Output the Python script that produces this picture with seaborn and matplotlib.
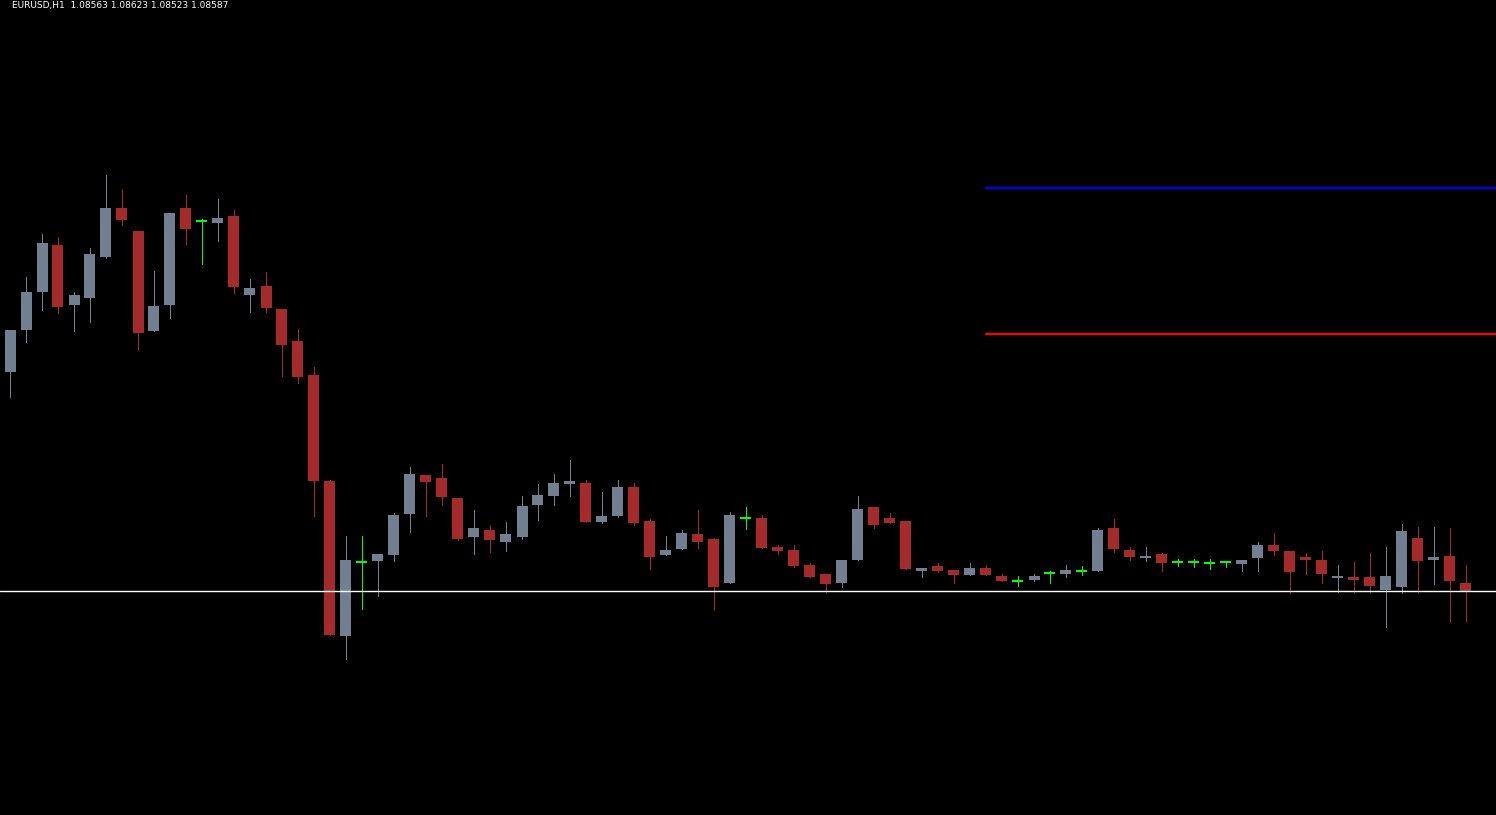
import numpy as np
import pandas as pd
import matplotlib

matplotlib.use('Agg')
import matplotlib.pyplot as plt
import seaborn as sns

# price levels in chart points, one entry per H1 bar
opens = [443, 485, 523, 570, 510, 517, 558, 607, 584, 484, 510, 607, 594, 592, 599, 520,
         529, 506, 474, 440, 334, 179, 253, 254, 260, 301, 340, 337, 317, 278, 285, 273,
         278, 310, 319, 331, 332, 293, 299, 328, 294, 260, 266, 281, 276, 232, 297, 297,
         268, 265, 250, 241, 232, 255, 308, 297, 294, 244, 249, 245, 240, 247, 239, 234,
         235, 242, 241, 244, 244, 287, 265, 257, 261, 253, 253, 252, 253, 251, 257, 270,
         264, 258, 255, 237, 238, 238, 225, 228, 277, 255, 259, 232]
highs = [485, 538, 581, 578, 523, 567, 640, 626, 584, 544, 602, 620, 596, 616, 605, 536,
         543, 506, 486, 448, 335, 279, 279, 261, 302, 348, 340, 351, 317, 305, 290, 293,
         319, 331, 341, 355, 335, 323, 335, 332, 296, 279, 285, 305, 277, 303, 308, 300,
         270, 270, 252, 241, 255, 319, 308, 302, 294, 247, 252, 245, 252, 250, 241, 239,
         241, 244, 250, 249, 287, 296, 268, 268, 262, 256, 256, 256, 253, 255, 273, 282,
         264, 262, 264, 250, 253, 262, 268, 291, 288, 288, 287, 250]
lows = [418, 473, 505, 502, 484, 493, 557, 590, 465, 484, 497, 571, 551, 574, 522, 503,
        503, 439, 432, 299, 180, 156, 206, 219, 254, 283, 299, 310, 275, 261, 263, 264,
        276, 295, 310, 319, 293, 292, 298, 290, 246, 260, 266, 267, 205, 232, 286, 267,
        261, 248, 238, 223, 228, 255, 287, 292, 246, 238, 243, 232, 240, 240, 234, 229,
        234, 232, 238, 240, 244, 263, 255, 254, 244, 249, 248, 246, 248, 244, 244, 260,
        222, 241, 232, 223, 223, 223, 188, 222, 223, 231, 193, 194]
closes = [485, 523, 572, 508, 520, 561, 607, 595, 482, 509, 602, 586, 594, 597, 528, 527,
          507, 470, 438, 334, 180, 255, 253, 261, 300, 341, 333, 318, 276, 287, 275, 281,
          309, 320, 332, 334, 293, 299, 328, 292, 258, 265, 282, 273, 228, 300, 297, 267,
          264, 249, 238, 231, 255, 306, 290, 292, 246, 247, 244, 240, 247, 240, 234, 234,
          239, 242, 245, 244, 285, 266, 258, 259, 252, 253, 253, 252, 253, 255, 270, 264,
          243, 255, 241, 239, 235, 229, 239, 284, 254, 258, 234, 224]

# horizontal levels drawn from bar 61 onwards
level_start = 61
upper_level = 627
lower_level = 481
header = "EURUSD,H1  1.08563 1.08623 1.08523 1.08587"

bull_color = '#708090'
bear_color = '#A52A2A'
doji_color = '#00FF00'

df = pd.DataFrame({'open': opens, 'high': highs, 'low': lows, 'close': closes})
df['x'] = np.arange(len(df))
df['kind'] = np.where(df['close'] > df['open'], 'bull',
                      np.where(df['close'] < df['open'], 'bear', 'doji'))
color_map = {'bull': bull_color, 'bear': bear_color, 'doji': doji_color}
df['color'] = df['kind'].map(color_map)

sns.set_theme(style='dark', rc={'axes.facecolor': 'black', 'figure.facecolor': 'black'})

fig = plt.figure(figsize=(14.96, 8.15), dpi=100)
ax = fig.add_axes([0, 0, 1, 1])
ax.set_facecolor('black')

body_w = 11 / 16
px = 0.72  # one pixel in points

# wicks
ax.vlines(df['x'], df['low'], df['high'], colors=df['color'], linewidth=px, antialiased=False)

# bodies
bodies = df[df['kind'] != 'doji']
ax.bar(bodies['x'], (bodies['close'] - bodies['open']).abs(),
       bottom=bodies[['open', 'close']].min(axis=1), width=body_w,
       color=bodies['color'], linewidth=0, antialiased=False)

# doji crosses
dojis = df[df['kind'] == 'doji']
ax.hlines(dojis['open'], dojis['x'] - body_w / 2, dojis['x'] + body_w / 2,
          colors=doji_color, linewidth=px * 1.5, antialiased=False)

# levels
x_end = len(df) + 2
lv = pd.DataFrame({'x': [level_start, x_end], 'upper': upper_level, 'lower': lower_level})
sns.lineplot(data=lv, x='x', y='upper', color='#0000FF', linewidth=1.6, ax=ax)
sns.lineplot(data=lv, x='x', y='lower', color='#FF0000', linewidth=1.6, ax=ax)
ax.axhline(closes[-1], color='white', linewidth=1.0)

# 16 px per bar, first bar centred at x = 10 px
x0 = -10 / 16
ax.set_xlim(x0, x0 + 1496 / 16)
ax.set_ylim(0, 815)
ax.set_axis_off()

fig.text(12 / 1496, 1 - 1 / 815, header, color='white', fontsize=6.5,
         va='top', ha='left', family='DejaVu Sans')

plt.savefig('out.png', dpi=100, facecolor='black')
